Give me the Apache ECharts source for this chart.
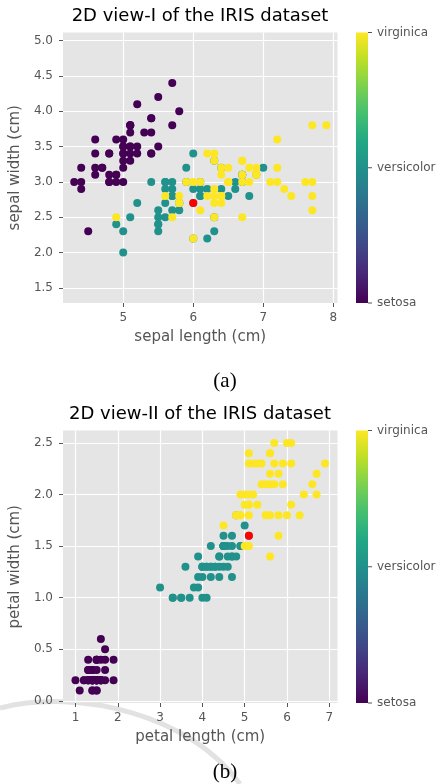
<!DOCTYPE html>
<html>
<head>
<meta charset="utf-8">
<script src="https://cdn.jsdelivr.net/npm/echarts@6/dist/echarts.min.js"></script>
<style>
html, body { margin: 0; padding: 0; background: #fff; }
#chart { width: 440px; height: 784px; }
</style>
</head>
<body>
<div id="chart"></div>
<script>
// iris measurements, sample order (setosa, versicolor, virginica)
const sepalLength = [
  5.1,4.9,4.7,4.6,5.0,5.4,4.6,5.0,4.4,4.9,5.4,4.8,4.8,4.3,5.8,5.7,5.4,5.1,5.7,5.1,
  5.4,5.1,4.6,5.1,4.8,5.0,5.0,5.2,5.2,4.7,4.8,5.4,5.2,5.5,4.9,5.0,5.5,4.9,4.4,5.1,
  5.0,4.5,4.4,5.0,5.1,4.8,5.1,4.6,5.3,5.0,
  7.0,6.4,6.9,5.5,6.5,5.7,6.3,4.9,6.6,5.2,5.0,5.9,6.0,6.1,5.6,6.7,5.6,5.8,6.2,5.6,
  5.9,6.1,6.3,6.1,6.4,6.6,6.8,6.7,6.0,5.7,5.5,5.5,5.8,6.0,5.4,6.0,6.7,6.3,5.6,5.5,
  5.5,6.1,5.8,5.0,5.6,5.7,5.7,6.2,5.1,5.7,
  6.3,5.8,7.1,6.3,6.5,7.6,4.9,7.3,6.7,7.2,6.5,6.4,6.8,5.7,5.8,6.4,6.5,7.7,7.7,6.0,
  6.9,5.6,7.7,6.3,6.7,7.2,6.2,6.1,6.4,7.2,7.4,7.9,6.4,6.3,6.1,7.7,6.3,6.4,6.0,6.9,
  6.7,6.9,5.8,6.8,6.7,6.7,6.3,6.5,6.2,5.9
];
const sepalWidth = [
  3.5,3.0,3.2,3.1,3.6,3.9,3.4,3.4,2.9,3.1,3.7,3.4,3.0,3.0,4.0,4.4,3.9,3.5,3.8,3.8,
  3.4,3.7,3.6,3.3,3.4,3.0,3.4,3.5,3.4,3.2,3.1,3.4,4.1,4.2,3.1,3.2,3.5,3.6,3.0,3.4,
  3.5,2.3,3.2,3.5,3.8,3.0,3.8,3.2,3.7,3.3,
  3.2,3.2,3.1,2.3,2.8,2.8,3.3,2.4,2.9,2.7,2.0,3.0,2.2,2.9,2.9,3.1,3.0,2.7,2.2,2.5,
  3.2,2.8,2.5,2.8,2.9,3.0,2.8,3.0,2.9,2.6,2.4,2.4,2.7,2.7,3.0,3.4,3.1,2.3,3.0,2.5,
  2.6,3.0,2.6,2.3,2.7,3.0,2.9,2.9,2.5,2.8,
  3.3,2.7,3.0,2.9,3.0,3.0,2.5,2.9,2.5,3.6,3.2,2.7,3.0,2.5,2.8,3.2,3.0,3.8,2.6,2.2,
  3.2,2.8,2.8,2.7,3.3,3.2,2.8,3.0,2.8,3.0,2.8,3.8,2.8,2.8,2.6,3.0,3.4,3.1,3.0,3.1,
  3.1,3.1,2.7,3.2,3.3,3.0,2.5,3.0,3.4,3.0
];
const petalLength = [
  1.4,1.4,1.3,1.5,1.4,1.7,1.4,1.5,1.4,1.5,1.5,1.6,1.4,1.1,1.2,1.5,1.3,1.4,1.7,1.5,
  1.7,1.5,1.0,1.7,1.9,1.6,1.6,1.5,1.4,1.6,1.6,1.5,1.5,1.4,1.5,1.2,1.3,1.4,1.3,1.5,
  1.3,1.3,1.3,1.6,1.9,1.4,1.6,1.4,1.5,1.4,
  4.7,4.5,4.9,4.0,4.6,4.5,4.7,3.3,4.6,3.9,3.5,4.2,4.0,4.7,3.6,4.4,4.5,4.1,4.5,3.9,
  4.8,4.0,4.9,4.7,4.3,4.4,4.8,5.0,4.5,3.5,3.8,3.7,3.9,5.1,4.5,4.5,4.7,4.4,4.1,4.0,
  4.4,4.6,4.0,3.3,4.2,4.2,4.2,4.3,3.0,4.1,
  6.0,5.1,5.9,5.6,5.8,6.6,4.5,6.3,5.8,6.1,5.1,5.3,5.5,5.0,5.1,5.3,5.5,6.7,6.9,5.0,
  5.7,4.9,6.7,4.9,5.7,6.0,4.8,4.9,5.6,5.8,6.1,6.4,5.6,5.1,5.6,6.1,5.6,5.5,4.8,5.4,
  5.6,5.1,5.1,5.9,5.7,5.2,5.0,5.2,5.4,5.1
];
const petalWidth = [
  0.2,0.2,0.2,0.2,0.2,0.4,0.3,0.2,0.2,0.1,0.2,0.2,0.1,0.1,0.2,0.4,0.4,0.3,0.3,0.3,
  0.2,0.4,0.2,0.5,0.2,0.2,0.4,0.2,0.2,0.2,0.2,0.4,0.1,0.2,0.2,0.2,0.2,0.1,0.2,0.2,
  0.3,0.3,0.2,0.6,0.4,0.3,0.2,0.2,0.2,0.2,
  1.4,1.5,1.5,1.3,1.5,1.3,1.6,1.0,1.3,1.4,1.0,1.5,1.0,1.4,1.3,1.4,1.5,1.0,1.5,1.1,
  1.8,1.3,1.5,1.2,1.3,1.4,1.4,1.7,1.5,1.0,1.1,1.0,1.2,1.6,1.5,1.6,1.5,1.3,1.3,1.3,
  1.2,1.4,1.2,1.0,1.3,1.2,1.3,1.3,1.1,1.3,
  2.5,1.9,2.1,1.8,2.2,2.1,1.7,1.8,1.8,2.5,2.0,1.9,2.1,2.0,2.4,2.3,1.8,2.2,2.3,1.5,
  2.3,2.0,2.0,1.8,2.1,1.8,1.8,1.8,2.1,1.6,1.9,2.0,2.2,1.5,1.4,2.3,2.4,1.8,1.8,2.1,
  2.4,2.3,1.9,2.3,2.5,2.3,1.9,2.0,2.3,1.8
];
const target = [
  0,0,0,0,0,0,0,0,0,0,0,0,0,0,0,0,0,0,0,0,0,0,0,0,0,0,0,0,0,0,0,0,0,0,0,0,0,0,0,0,0,0,0,0,0,0,0,0,0,0,
  1,1,1,1,1,1,1,1,1,1,1,1,1,1,1,1,1,1,1,1,1,1,1,1,1,1,1,1,1,1,1,1,1,1,1,1,1,1,1,1,1,1,1,1,1,1,1,1,1,1,
  2,2,2,2,2,2,2,2,2,2,2,2,2,2,2,2,2,2,2,2,2,2,2,2,2,2,2,2,2,2,2,2,2,2,2,2,2,2,2,2,2,2,2,2,2,2,2,2,2,2
];
const speciesNames = ['setosa', 'versicolor', 'virginica'];
const speciesColors = ['#440154', '#21918c', '#fde725'];
const highlightIndex = 83;   // the red sample

const sepalTicksX = [5, 6, 7, 8];
const sepalTicksY = [1.5, 2.0, 2.5, 3.0, 3.5, 4.0, 4.5, 5.0];
const petalTicksX = [1, 2, 3, 4, 5, 6, 7];
const petalTicksY = [0.0, 0.5, 1.0, 1.5, 2.0, 2.5];

const FONT = 'DejaVu Sans';
const GREY = '#555555';

function pick(xs, ys, k) {
  const out = [];
  for (let i = 0; i < target.length; i++) {
    if (target[i] === k) out.push([xs[i], ys[i]]);
  }
  return out;
}

function axis(dir, gi, min, max, ticks, name, fmt) {
  const isX = dir === 'x';
  return {
    type: 'value', gridIndex: gi, min: min, max: max,
    name: name, nameLocation: 'middle', nameGap: isX ? 27 : 36,
    nameTextStyle: { color: GREY, fontSize: 15, fontFamily: FONT },
    axisLine: { show: false, onZero: false },
    axisTick: { show: true, length: 4, customValues: ticks, lineStyle: { color: GREY, width: 1 } },
    axisLabel: {
      customValues: ticks, color: GREY, fontSize: 12, fontFamily: FONT,
      margin: isX ? 9 : 10, formatter: fmt
    },
    splitLine: { show: true, lineStyle: { color: '#ffffff', width: 1.2 } }
  };
}

function scatterSeries(gi, xs, ys) {
  const list = [];
  for (let k = 0; k < 3; k++) {
    list.push({
      type: 'scatter', name: speciesNames[k], xAxisIndex: gi, yAxisIndex: gi,
      data: pick(xs, ys, k), symbolSize: 8,
      itemStyle: { color: speciesColors[k], opacity: 1 },
      emphasis: { disabled: true }, animation: false
    });
  }
  list.push({
    type: 'scatter', name: 'sample', xAxisIndex: gi, yAxisIndex: gi,
    data: [[xs[highlightIndex], ys[highlightIndex]]], symbolSize: 8,
    itemStyle: { color: '#ff0000', opacity: 1 }, z: 5,
    emphasis: { disabled: true }, animation: false
  });
  return list;
}

// viridis
const viridis = ['#440154', '#482475', '#414487', '#355f8d', '#2a788e', '#21918c',
                 '#22a884', '#44bf70', '#7ad151', '#bddf26', '#fde725'];

function colorbar(top, height) {
  const stops = viridis.map((c, i) => ({ offset: 1 - i / (viridis.length - 1), color: c }));
  const els = [{
    type: 'rect', shape: { x: 356, y: top, width: 12, height: height },
    style: { fill: new echarts.graphic.LinearGradient(0, 0, 0, 1, stops) }
  }];
  for (let k = 0; k < 3; k++) {
    const y = top + height - k * height / 2;
    els.push({ type: 'line', shape: { x1: 368, y1: y, x2: 372, y2: y }, style: { stroke: GREY, lineWidth: 1 } });
    els.push({
      type: 'text', x: 377, y: y,
      style: { text: speciesNames[k], fill: GREY, font: '12px "' + FONT + '"', textVerticalAlign: 'middle', textAlign: 'left' }
    });
  }
  return els;
}

const g1 = { left: 63, top: 32.5, width: 274.5, height: 270.5 };
const g2 = { left: 63, top: 430.5, width: 274.5, height: 272.5 };

const fmtInt = v => String(v);
const fmt1 = v => v.toFixed(1);

const option = {
  backgroundColor: '#ffffff',
  animation: false,
  title: [
    { text: '2D view-I of the IRIS dataset', left: 200, top: 7, textAlign: 'center', padding: 0,
      textStyle: { fontFamily: FONT, fontSize: 18, fontWeight: 'normal', color: '#000' } },
    { text: '2D view-II of the IRIS dataset', left: 200, top: 405, textAlign: 'center', padding: 0,
      textStyle: { fontFamily: FONT, fontSize: 18, fontWeight: 'normal', color: '#000' } }
  ],
  grid: [
    Object.assign({ show: true, backgroundColor: '#e5e5e5', borderWidth: 0 }, g1),
    Object.assign({ show: true, backgroundColor: '#e5e5e5', borderWidth: 0 }, g2)
  ],
  xAxis: [
    axis('x', 0, 4.14, 8.06, sepalTicksX, 'sepal length (cm)', fmtInt),
    axis('x', 1, 0.705, 7.195, petalTicksX, 'petal length (cm)', fmtInt)
  ],
  yAxis: [
    axis('y', 0, 1.285, 5.115, sepalTicksY, 'sepal width (cm)', fmt1),
    axis('y', 1, -0.02, 2.62, petalTicksY, 'petal width (cm)', fmt1)
  ],
  series: scatterSeries(0, sepalLength, sepalWidth).concat(scatterSeries(1, petalLength, petalWidth)),
  graphic: [
    // faint scan mark across the lower left of the page
    { type: 'bezierCurve', z: -1, silent: true,
      shape: { x1: 0, y1: 708, cpx1: 80, cpy1: 688, cpx2: 190, cpy2: 715, x2: 240, y2: 784 },
      style: { stroke: '#e2e2e2', lineWidth: 5, fill: null } }
  ].concat(colorbar(g1.top, g1.height)).concat(colorbar(g2.top, g2.height)).concat([
    { type: 'text', x: 225, y: 381, style: { text: '(a)', fill: '#000', font: '21px "Liberation Serif"', textAlign: 'center', textVerticalAlign: 'middle' } },
    { type: 'text', x: 225, y: 772, style: { text: '(b)', fill: '#000', font: '21px "Liberation Serif"', textAlign: 'center', textVerticalAlign: 'middle' } }
  ])
};

const chart = echarts.init(document.getElementById('chart'));
chart.setOption(option);
</script>
</body>
</html>
